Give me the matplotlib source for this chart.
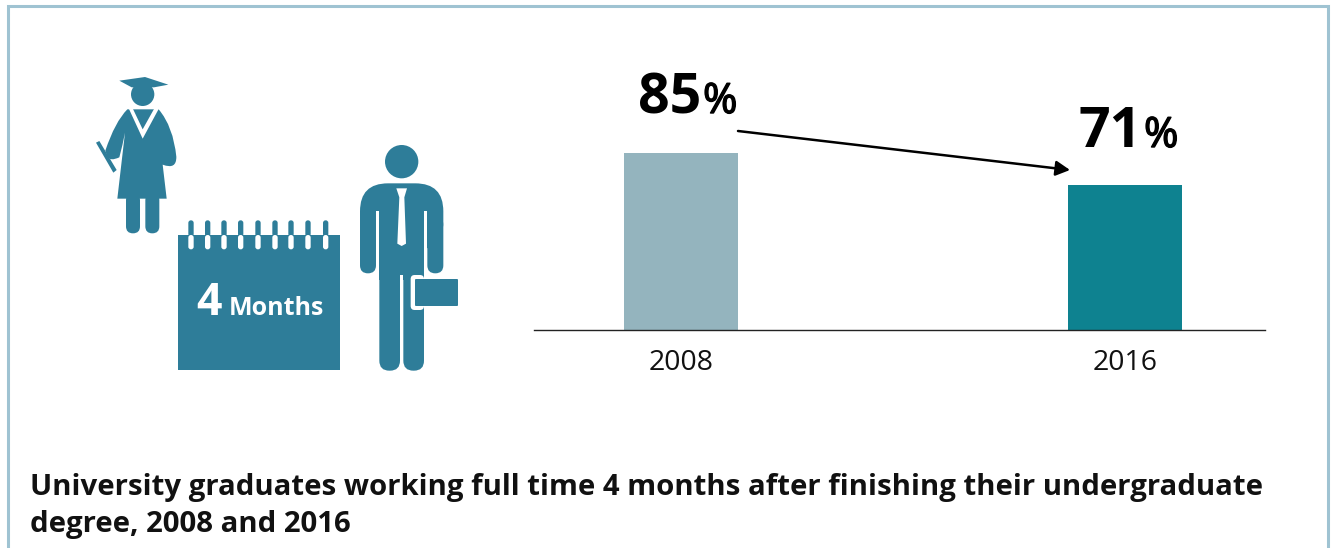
import matplotlib
matplotlib.use('Agg')
import matplotlib.pyplot as plt
import matplotlib.patheffects as pe
from matplotlib.patches import Rectangle, Circle, Polygon, FancyBboxPatch, PathPatch
from matplotlib.path import Path

plt.rcParams['font.family'] = ['Open Sans', 'DejaVu Sans']

years = ['2008', '2016']
shares = [85, 71]
bar_colors = ['#94b4be', '#0e8290']
title = 'University graduates working full time 4 months after finishing their undergraduate\ndegree, 2008 and 2016'

ICON = '#2e7d99'
W, H = 1332, 548

fig = plt.figure(figsize=(W / 100, H / 100), dpi=100, facecolor='white')

# overlay in pixel coordinates for frame, icons and texts
bg = fig.add_axes([0, 0, 1, 1])
bg.set_xlim(0, W)
bg.set_ylim(H, 0)
bg.axis('off')

# frame, no bottom edge since the picture cuts it off
bg.plot([7.5, 7.5, 1328, 1328], [H + 5, 5.5, 5.5, H + 5], color='#9fc3d2', lw=2.2,
        solid_joinstyle='miter')


def capsule(x0, y0, x1, y1, r, color=ICON):
    bg.add_patch(FancyBboxPatch((x0, y0), x1 - x0, y1 - y0, boxstyle='round,pad=0,rounding_size=%g' % r,
                                fc=color, ec='none'))


# graduate, traced from zoom 1
def g(pts):
    return [(80 + x / 3, 60 + y / 3) for x, y in pts]


bg.add_patch(Polygon(g([(48, 248), (58, 243), (110, 330), (100, 338)]), fc=ICON, ec='none'))
bg.add_patch(Circle((80 + 188 / 3, 60 + 103 / 3), 35 / 3, fc=ICON, ec='none'))
bg.add_patch(Polygon(g([(118, 62), (195, 51), (265, 74), (222, 82), (155, 82)]), fc=ICON, ec='none'))
gown = [(Path.MOVETO, (142, 148)),
        (Path.CURVE3, (105, 185)), (Path.CURVE3, (76, 272)),
        (Path.LINETO, (82, 290)),
        (Path.CURVE3, (90, 305)), (Path.CURVE3, (118, 292)),
        (Path.CURVE3, (128, 255)), (Path.CURVE3, (135, 218)),
        (Path.LINETO, (112, 416)), (Path.LINETO, (260, 416)), (Path.LINETO, (248, 314)),
        (Path.CURVE3, (290, 330)), (Path.CURVE3, (289, 290)),
        (Path.CURVE3, (280, 200)), (Path.CURVE3, (236, 148)),
        (Path.CLOSEPOLY, (142, 148))]
bg.add_patch(PathPatch(Path(g([p for _, p in gown]), [k for k, _ in gown]), fc=ICON, ec='none'))
bg.add_patch(Polygon(g([(147, 147), (188, 236), (236, 147), (222, 147), (188, 208), (159, 147)]), fc='white', ec='none'))
capsule(80 + 138 / 3, 60 + 400 / 3, 80 + 180 / 3, 60 + 520 / 3, 7)
capsule(80 + 196 / 3, 60 + 400 / 3, 80 + 238 / 3, 60 + 520 / 3, 7)


# calendar and man, traced from zoom 2
def c(x, y):
    return (170 + x / 3, 140 + y / 3)


x0, y0 = c(24, 285)
x1, y1 = c(510, 690)
bg.add_patch(Rectangle((x0, y0), x1 - x0, y1 - y0, fc=ICON, ec='none'))
for rx in [63, 113, 162, 212, 264, 315, 363, 414, 467]:
    xa, ya = c(rx - 8, 241)
    xb, yb = c(rx + 8, 290)
    capsule(xa, ya, xb, yb, 2.6)
    xa, ya = c(rx - 8, 285)
    xb, yb = c(rx + 8, 328)
    capsule(xa, ya, xb, yb, 2.6, 'white')
bg.text(196, 315, '4', color='white', fontsize=32, fontweight='bold', ha='left', va='baseline')
bg.text(229, 315, 'Months', color='white', fontsize=18, fontweight='bold', ha='left', va='baseline')

cx, cy = c(695, 65)
bg.add_patch(Circle((cx, cy), 50 / 3, fc=ICON, ec='none'))
xa, ya = c(570, 130)
xb, yb = c(820, 330)
capsule(xa, ya, xb, yb, 28)
# white slits between arms and body
for sx in [(618, 628), (762, 772)]:
    xa, ya = c(sx[0], 212)
    xb, yb = c(sx[1], 420)
    bg.add_patch(Rectangle((xa, ya), xb - xa, yb - ya, fc='white', ec='none'))
# arms
xa, ya = c(570, 230)
xb, yb = c(618, 400)
capsule(xa, ya, xb, yb, 8)
xa, ya = c(772, 230)
xb, yb = c(820, 400)
capsule(xa, ya, xb, yb, 8)
xa, ya = c(628, 300)
xb, yb = c(762, 420)
bg.add_patch(Rectangle((xa, ya), xb - xa, yb - ya, fc=ICON, ec='none'))
# legs
xa, ya = c(628, 390)
xb, yb = c(690, 692)
capsule(xa, ya, xb, yb, 10)
xa, ya = c(700, 390)
xb, yb = c(762, 692)
capsule(xa, ya, xb, yb, 10)
xa, ya = c(690, 405)
xb, yb = c(700, 692)
bg.add_patch(Rectangle((xa, ya), xb - xa, yb - ya, fc='white', ec='none'))
# tie
bg.add_patch(Polygon([c(x, y) for x, y in [(679, 145), (711, 145), (703, 172), (708, 311), (695, 318),
                                           (682, 311), (688, 172)]], fc='white', ec='none'))
# briefcase
xa, ya = c(722, 405)
xb, yb = c(762, 510)
capsule(xa, ya, xb, yb, 4, 'white')
xa, ya = c(735, 417)
xb, yb = c(864, 498)
capsule(xa, ya, xb, yb, 1)

# bars, y axis starts above 0 like the picture does
left, right, base, top = 534, 1265, 330, 153
ax = fig.add_axes([left / W, 1 - base / H, (right - left) / W, (base - top) / H])
ax.patch.set_alpha(0)
ax.bar(range(len(years)), shares, width=0.257, color=bar_colors)
ax.set_xlim(-0.331, 1.315)
ax.set_ylim(7.7, 85)
ax.set_xticks(range(len(years)))
ax.set_xticklabels(years, fontsize=20.5, color='#111111')
ax.tick_params(axis='x', length=0, pad=14)
ax.set_yticks([])
for s in ['top', 'left', 'right']:
    ax.spines[s].set_visible(False)
ax.spines['bottom'].set_linewidth(1.0)
ax.spines['bottom'].set_color('#222222')

# value labels, the % sign is a semibold, regular plus a thin stroke gets near it
for val, xr, yb in zip(shares, [701, 1142], [113, 147]):
    bg.text(xr, yb, str(val), fontsize=40, fontweight='bold', ha='right', va='baseline', color='black')
    t = bg.text(xr + 2, yb, '%', fontsize=30, ha='left', va='baseline', color='black')
    t.set_path_effects([pe.withStroke(linewidth=1.0, foreground='black')])

bg.annotate('', xy=(1070, 170), xytext=(738, 131),
            arrowprops=dict(arrowstyle='-|>,head_length=0.85,head_width=0.45', color='black', lw=1.8,
                            shrinkA=0, shrinkB=0))

bg.text(30, 532, title, fontsize=21.2, fontweight='bold', color='#111111', ha='left', va='baseline',
        linespacing=1.35)

fig.savefig('out.png', dpi=100)
